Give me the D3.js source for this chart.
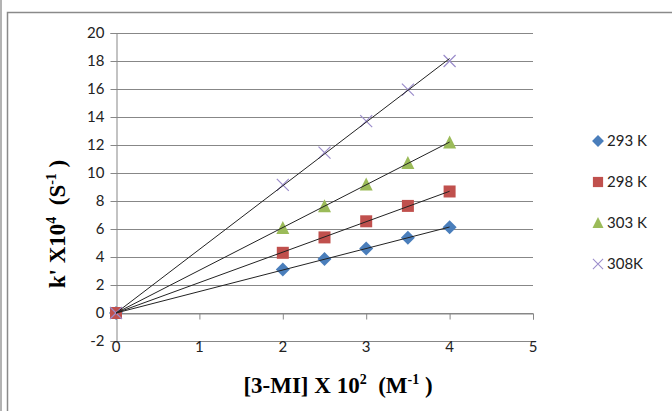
<!DOCTYPE html>
<html>
<head>
<meta charset="utf-8">
<script src="https://d3js.org/d3.v7.min.js"></script>
<style>
body { margin: 0; background: #fff; }
text { font-family: Lato, "Open Sans", sans-serif; }
.ttl { font-family: "Liberation Serif", "Times New Roman", serif; font-weight: bold; white-space: pre; }
</style>
</head>
<body>
<script>
// data
var xVals = [2, 2.5, 3, 3.5, 4];
var k293 = [3.1, 3.85, 4.6, 5.38, 6.12];
var k298 = [4.3, 5.4, 6.55, 7.65, 8.68];
var k303 = [6.08, 7.62, 9.18, 10.72, 12.18];
var k308 = [9.15, 11.45, 13.7, 15.95, 18.0];
var seriesNames = ["293 K", "298 K", "303 K", "308K"];
var xTicks = [0, 1, 2, 3, 4, 5];
var yTicks = [-2, 0, 2, 4, 6, 8, 10, 12, 14, 16, 18, 20];

var W = 672, H = 411;
var svg = d3.select("body").append("svg")
  .attr("width", W).attr("height", H);

// frame
svg.append("line").attr("x1", 1).attr("x2", 1).attr("y1", 0).attr("y2", H)
  .attr("stroke", "#9a9a9a").attr("stroke-width", 1.5);
svg.append("rect").attr("x", 7.5).attr("y", 12.5).attr("width", 700).attr("height", 420)
  .attr("fill", "none").attr("stroke", "#8a8a8a").attr("stroke-width", 1.5);

var x = d3.scaleLinear().domain([0, 5]).range([116, 533]);
var y = d3.scaleLinear().domain([-2, 20]).range([341, 33]);

var gridCol = "#878787";

// horizontal grid
svg.append("g").selectAll("line").data(yTicks).enter().append("line")
  .attr("x1", x(0)).attr("x2", x(5))
  .attr("y1", function(d) { return Math.round(y(d)) + 0.5; })
  .attr("y2", function(d) { return Math.round(y(d)) + 0.5; })
  .attr("stroke", gridCol).attr("stroke-width", 1);

// y axis
var yAxis = d3.axisLeft(y).tickValues(yTicks).tickSize(6).tickPadding(6)
  .tickFormat(function(d) { return String(d); });
var gy = svg.append("g").attr("transform", "translate(" + (x(0) + 0.5) + ",0)").call(yAxis);
gy.select(".domain").attr("stroke", gridCol);
gy.selectAll(".tick line").attr("stroke", gridCol);
gy.selectAll(".tick text").attr("font-size", 15).attr("fill", "#222")
  .style("font-family", "Lato, sans-serif");

// x axis drawn at y=0
var xAxis = d3.axisBottom(x).tickValues(xTicks).tickSize(6).tickFormat("");
var gx = svg.append("g").attr("transform", "translate(0," + (Math.round(y(0)) + 0.5) + ")").call(xAxis);
gx.select(".domain").attr("stroke", gridCol);
gx.selectAll(".tick line").attr("stroke", gridCol);

// x tick labels sit under the bottom of the plot
svg.append("g").selectAll("text").data(xTicks).enter().append("text")
  .attr("x", function(d) { return x(d); })
  .attr("y", y(-2) + 11)
  .attr("text-anchor", "middle")
  .attr("font-size", 15).attr("fill", "#222")
  .text(function(d) { return d; });

var series = [
  { name: seriesNames[0], vals: k293, color: "#4a7ebb", shape: "diamond", origin: true },
  { name: seriesNames[1], vals: k298, color: "#c0504d", shape: "square", origin: true },
  { name: seriesNames[2], vals: k303, color: "#9bbb59", shape: "triangle", origin: false },
  { name: seriesNames[3], vals: k308, color: "#9b8ccb", shape: "cross", origin: true }
];

function marker(g, shape, color) {
  if (shape === "diamond") {
    g.append("path").attr("d", "M0,-7L7,0L0,7L-7,0Z").attr("fill", color);
  } else if (shape === "square") {
    g.append("rect").attr("x", -6).attr("y", -6).attr("width", 12).attr("height", 12).attr("fill", color);
  } else if (shape === "triangle") {
    g.append("path").attr("d", "M0,-7L6.5,6L-6.5,6Z").attr("fill", color);
  } else {
    g.append("path").attr("d", "M-6,-6L6,6M6,-6L-6,6").attr("stroke", color)
      .attr("stroke-width", 1.2).attr("fill", "none");
  }
}

// markers
series.forEach(function(s) {
  var pts = xVals.map(function(v, i) { return [v, s.vals[i]]; });
  if (s.origin) pts.unshift([0, 0]);
  s.pts = pts;
  svg.append("g").selectAll("g").data(pts).enter().append("g")
    .attr("transform", function(d) { return "translate(" + x(d[0]) + "," + y(d[1]) + ")"; })
    .each(function() { marker(d3.select(this), s.shape, s.color); });
});

// linear trend lines through the origin
series.forEach(function(s) {
  var sxy = d3.sum(xVals, function(v, i) { return v * s.vals[i]; });
  var sxx = d3.sum(xVals, function(v) { return v * v; });
  var m = sxy / sxx;
  svg.append("line")
    .attr("x1", x(0)).attr("y1", y(0))
    .attr("x2", x(4)).attr("y2", y(4 * m))
    .attr("stroke", "#222").attr("stroke-width", 1);
});

// legend
var leg = svg.append("g").selectAll("g").data(series).enter().append("g")
  .attr("transform", function(d, i) { return "translate(598," + (141 + i * 41) + ")"; });
leg.each(function(d) {
  var g = d3.select(this).append("g").attr("transform", "scale(0.85)");
  marker(g, d.shape, d.color);
});
leg.append("text").attr("x", 9).attr("y", 0).attr("dy", "0.35em")
  .attr("font-size", 15).attr("fill", "#222")
  .text(function(d) { return d.name; });

// axis titles
var xt = svg.append("text").attr("class", "ttl")
  .attr("x", 338).attr("y", 393).attr("text-anchor", "middle")
  .attr("font-size", 23).attr("fill", "#000");
xt.append("tspan").text("[3-MI] X 10");
xt.append("tspan").attr("font-size", 14).attr("dy", -9).text("2");
xt.append("tspan").attr("dy", 9).text("  (M");
xt.append("tspan").attr("font-size", 14).attr("dy", -9).text("-1");
xt.append("tspan").attr("dy", 9).text(" )");

var yt = svg.append("text").attr("class", "ttl")
  .attr("transform", "translate(65,224) rotate(-90)")
  .attr("text-anchor", "middle")
  .attr("font-size", 23).attr("fill", "#000");
yt.append("tspan").text("k' X10");
yt.append("tspan").attr("font-size", 14).attr("dy", -9).text("4");
yt.append("tspan").attr("dy", 9).text("  (S");
yt.append("tspan").attr("font-size", 14).attr("dy", -9).text("-1");
yt.append("tspan").attr("dy", 9).text(" )");
</script>
</body>
</html>
